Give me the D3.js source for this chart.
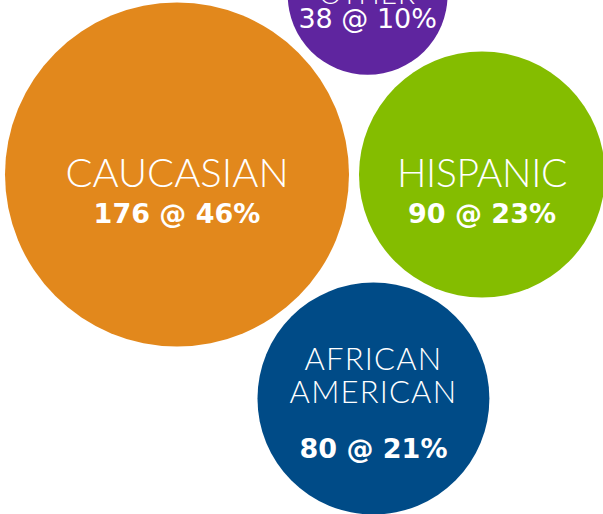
<!DOCTYPE html>
<html><head><meta charset="utf-8">
<script src="https://cdn.jsdelivr.net/npm/d3@7"></script>
<style>
html,body{margin:0;padding:0;background:#fff;overflow:hidden;}
svg{display:block;}
</style></head>
<body>
<svg id="chart" width="603" height="514"></svg>
<script>
const categories = ["CAUCASIAN", "HISPANIC", "AFRICAN AMERICAN", "OTHER"];
const nameLines = [["CAUCASIAN"], ["HISPANIC"], ["AFRICAN", "AMERICAN"], ["OTHER"]];
const values = [176, 90, 80, 38];
const colors = ["#E2881C", "#84BD00", "#004B87", "#5F259F"];

const W = 603, H = 514;
const svg = d3.select("#chart");
const total = d3.sum(values);
const r = d3.scaleSqrt().domain([0, d3.max(values)]).range([0, 172]);
const pad = 5;

const nodes = values.map((v, i) => ({i, v, name: categories[i], lines: nameLines[i], color: colors[i], rad: r(v), r: r(v) + pad}));
d3.packSiblings(nodes);

// place layout: leftmost edge at 5px, first row at y 174.5
const minX = d3.min(nodes, d => d.x - d.rad);
const x = d3.scaleLinear().domain([minX, minX + 1]).range([5, 6]);
const y = d3.scaleLinear().domain([nodes[0].y, nodes[0].y + 1]).range([174.5, 175.5]);

// text style per bubble
const style = [
  {nameSize: 40, ls: 0, valSize: 27, nameY: [12.5], valY: 48.5, valWeight: 700},
  {nameSize: 39, ls: -0.3, valSize: 27, nameY: [12.5], valY: 48.5, valWeight: 700},
  {nameSize: 31, ls: 1.2, valSize: 27, nameY: [-29, 4], valY: 59, valWeight: 700},
  {nameSize: 28, ls: 1, valSize: 27, nameY: [9.5], valY: 33, valWeight: 400}
];

const g = svg.selectAll("g.bubble").data(nodes).join("g")
  .attr("class", "bubble")
  .attr("transform", d => `translate(${x(d.x)},${y(d.y)})`);

g.append("circle").attr("r", d => d.rad).attr("fill", d => d.color);

g.each(function(d) {
  const s = style[d.i];
  const gg = d3.select(this);
  d.lines.forEach((ln, k) => {
    gg.append("text")
      .attr("text-anchor", "middle")
      .attr("y", s.nameY[k])
      .attr("fill", "#fff")
      .style("font-family", "Lato, sans-serif")
      .style("font-weight", 300)
      .style("letter-spacing", s.ls + "px")
      .style("font-size", s.nameSize + "px")
      .text(ln);
  });
  gg.append("text")
    .attr("text-anchor", "middle")
    .attr("y", s.valY)
    .attr("fill", "#fff")
    .style("font-family", "'DejaVu Sans', sans-serif")
    .style("font-weight", s.valWeight)
    .style("font-size", s.valSize + "px")
    .text(`${d.v} @ ${Math.round(d.v / total * 100)}%`);
});
</script>
</body></html>
